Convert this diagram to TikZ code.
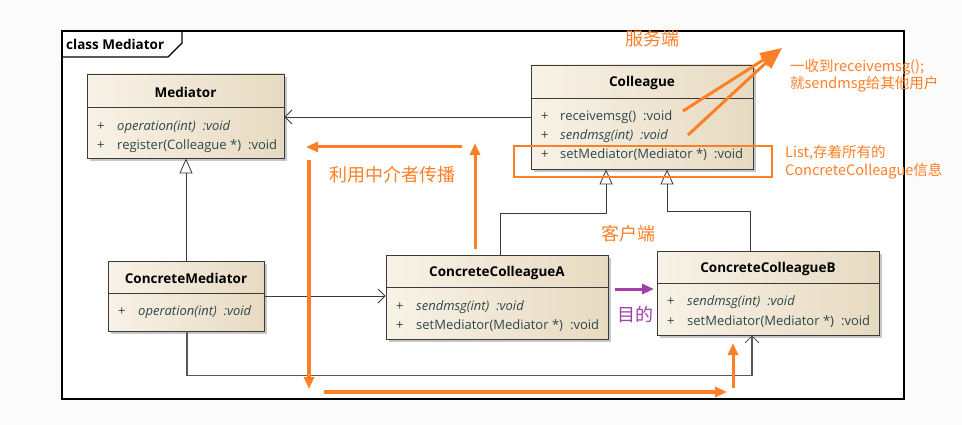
\documentclass[tikz,border=0pt]{standalone}
\usepackage{fontspec}
\setmainfont{Open Sans}
\newfontfamily\cjk{Noto Sans CJK SC}
\usetikzlibrary{arrows.meta,shadows}
\definecolor{orng}{HTML}{FF7F27}
\definecolor{purp}{HTML}{A040A8}
\definecolor{cL}{HTML}{F8F2E7}
\definecolor{cR}{HTML}{E7DAC1}
\definecolor{boxline}{HTML}{3A3A3A}
\definecolor{memtxt}{HTML}{2E4848}
\definecolor{outbg}{HTML}{FBFBFB}
\newcommand\umlrow[1]{\makebox[20pt][l]{+}#1}
\newcommand\vgap{\hspace{7pt}}
\begin{document}
\begin{tikzpicture}[x=1pt,y=-1pt,
  classbox/.style={draw=boxline, line width=0.9pt, left color=cL, right color=cR,
    drop shadow={shadow xshift=3pt, shadow yshift=-3pt, fill=black, opacity=0.22},
    rectangle, inner sep=0pt},
  cname/.style={font=\fontsize{13.5}{15}\selectfont\bfseries, text=black, inner sep=0pt},
  member/.style={font=\fontsize{13}{14}\selectfont, text=memtxt, anchor=west, inner sep=0pt},
  hdr/.style={draw=boxline, line width=0.9pt},
  assoc/.style={draw=boxline, line width=0.8pt, -{Straight Barb[length=7pt,width=14pt,line width=0.8pt]}},
  gen/.style={draw=boxline, line width=0.8pt, -{Triangle[open,length=15pt,width=13pt,fill=white,line width=0.8pt]}},
  oarrow/.style={draw=orng, line width=3pt, -{Triangle[length=12pt,width=10pt]}},
  otext/.style={text=orng, font=\cjk\fontsize{18}{20}\selectfont, inner sep=0pt},
  onote/.style={text=orng, font=\cjk\fontsize{14.5}{17}\selectfont, inner sep=0pt, anchor=west}
]
\useasboundingbox (0,0) rectangle (962,425);
\fill[outbg] (0,0) rectangle (962,425);
% frame
\node[draw=black, line width=1.1pt, fill=white, minimum width=842pt, minimum height=368pt, inner sep=0pt] (frame) at (483,215) {};
\draw[black, line width=1.1pt] (62,57) -- (168,57) -- (182,43) -- (182,31);
\node[font=\fontsize{13.5}{15}\selectfont\bfseries, anchor=west, inner sep=0pt] (title) at (66,44) {class Mediator};

% classes
\node[classbox, minimum width=197pt, minimum height=84pt] (med) at (185.5,116) {};
\draw[hdr] ([yshift=-34pt]med.north west) -- ([yshift=-34pt]med.north east);
\node[cname] (medN) at (185.5,92) {Mediator};
\node[member] (med1) at (97,127) {\umlrow{\textit{operation(int)\vgap:void}}};
\node[member] (med2) at (97,146) {\umlrow{register(Colleague *)\vgap:void}};

\node[classbox, minimum width=222pt, minimum height=104pt] (col) at (642,117) {};
\draw[hdr] ([yshift=-34pt]col.north west) -- ([yshift=-34pt]col.north east);
\node[cname] (colN) at (642,83) {Colleague};
\node[member] (col1) at (541,117) {\makebox[19pt][l]{+}receivemsg()\vgap:void};
\node[member] (col2) at (541,136) {\makebox[19pt][l]{+}\textit{sendmsg(int)\vgap:void}};
\node[member] (col3) at (541,155) {\makebox[19pt][l]{+}setMediator(Mediator *)\vgap:void};

\node[classbox, minimum width=156pt, minimum height=70pt] (cm) at (186,296) {};
\draw[hdr] ([yshift=-33pt]cm.north west) -- ([yshift=-33pt]cm.north east);
\node[cname] (cmN) at (186,278) {ConcreteMediator};
\node[member] (cm1) at (118,312) {\umlrow{\textit{operation(int)\vgap:void}}};

\node[classbox, minimum width=222pt, minimum height=84pt] (cca) at (497,297) {};
\draw[hdr] ([yshift=-33pt]cca.north west) -- ([yshift=-33pt]cca.north east);
\node[cname] (ccaN) at (497,273) {ConcreteColleagueA};
\node[member] (cca1) at (396,307) {\umlrow{\textit{sendmsg(int)\vgap:void}}};
\node[member] (cca2) at (396,326) {\umlrow{setMediator(Mediator *)\vgap:void}};

\node[classbox, minimum width=222pt, minimum height=84pt] (ccb) at (768,293) {};
\draw[hdr] ([yshift=-33pt]ccb.north west) -- ([yshift=-33pt]ccb.north east);
\node[cname] (ccbN) at (768,269) {ConcreteColleagueB};
\node[member] (ccb1) at (667,302) {\umlrow{\textit{sendmsg(int)\vgap:void}}};
\node[member] (ccb2) at (667,322) {\umlrow{setMediator(Mediator *)\vgap:void}};

% UML connectors
\draw[assoc] (col.west) -- (col.west -| med.east);
\draw[gen] (cm.north) -- (cm.north |- med.south);
\draw[gen] ([xshift=3pt]cca.north) -- ++(0,-41) -| ([xshift=-36pt]col.south);
\draw[gen] ([xshift=-18pt]ccb.north) -- ++(0,-39) -| ([xshift=25pt]col.south);
\draw[assoc] (cm.east) -- (cm.east -| cca.west);
\draw[draw=boxline!85, line width=1.2pt, -{Straight Barb[length=7pt,width=14pt,line width=0.8pt]}] ([xshift=1pt]cm.south) -- ++(0,44) -| ([xshift=-16pt]ccb.south);

% orange annotations
\node[draw=orng, line width=1.5pt, minimum width=258pt, minimum height=31pt, inner sep=0pt] (listbox) at (643,161.5) {};
\coordinate (tipA) at (782,48);
\coordinate (s1) at (683,111);
\coordinate (s2) at (688,135);
\draw[draw=orng, line width=3pt, -{Triangle[length=22pt,width=15pt]}] (s1) -- (tipA);
\draw[draw=orng, line width=3pt, -{Triangle[length=22pt,width=15pt]}] (s2) -- (tipA);

\node[otext] (fwd) at (652,39) {服务端};
\node[onote] (note1) at (790,67) {一收到receivemsg();};
\node[onote] (note2) at (790,84) {就sendmsg给其他用户};
\node[onote] (note3) at (785,153) {List,存着所有的};
\node[onote] (note4) at (785,171) {ConcreteColleague信息};

\coordinate (l1s) at (462,147);
\coordinate (l1e) at (306,147);
\draw[oarrow] (l1s) -- (l1e);
\coordinate (u1s) at (475,249);
\coordinate (u1e) at (475,143);
\draw[oarrow] (u1s) -- (u1e);
\coordinate (d1s) at (309,160);
\coordinate (d1e) at (309,389);
\draw[oarrow, line width=3.5pt] (d1s) -- (d1e);
\coordinate (b1s) at (324,392);
\coordinate (b1e) at (727,392);
\draw[oarrow, line width=3.5pt] (b1s) -- (b1e);
\coordinate (u2s) at (733,388);
\coordinate (u2e) at (733,343);
\draw[oarrow] (u2s) -- (u2e);
\node[otext] (mid) at (392,175) {利用中介者传播};
\node[otext] (client) at (628,234) {客户端};

% purple
\coordinate (p1s) at (615,289);
\coordinate (p1e) at (654,289);
\draw[draw=purp, line width=3pt, -{Triangle[length=12pt,width=10pt]}] (p1s) -- (p1e);
\node[text=purp, font=\cjk\fontsize{18}{20}\selectfont, inner sep=0pt] (goal) at (635,315) {目的};
\end{tikzpicture}
\end{document}
